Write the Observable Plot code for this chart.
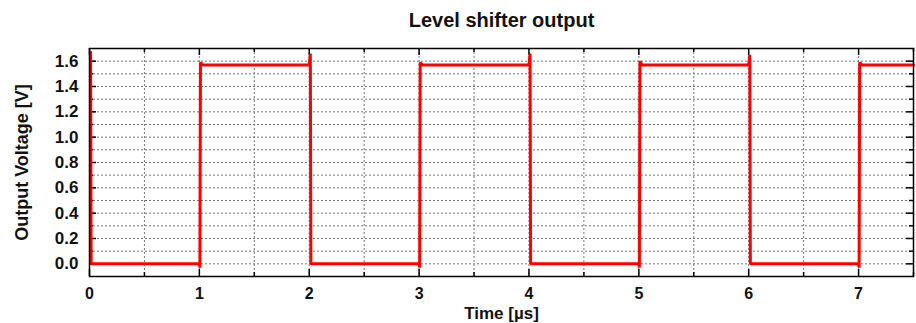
<!DOCTYPE html>
<html>
<head>
<meta charset="utf-8">
<script src="https://cdn.jsdelivr.net/npm/d3@7"></script>
<script src="https://cdn.jsdelivr.net/npm/@observablehq/plot@0.6"></script>
<style>
  html, body { margin: 0; padding: 0; background: #fff; }
  svg { font-family: "Liberation Sans", Arial, sans-serif; }
</style>
</head>
<body>
<div id="chart"></div>
<script>
// Waveform (time in µs, voltage in V)
const times = [0.01, 0.015, 1.0, 1.005, 1.01, 1.03, 2.0, 2.01, 2.015,
               3.0, 3.005, 3.01, 3.03, 4.0, 4.01, 4.015,
               5.0, 5.005, 5.01, 5.03, 6.0, 6.01, 6.015,
               7.0, 7.005, 7.01, 7.03, 7.5];
const volts = [1.67, 0.0, 0.0, -0.03, 1.59, 1.57, 1.57, 1.66, 0.0,
               0.0, -0.03, 1.59, 1.57, 1.57, 1.66, 0.0,
               0.0, -0.03, 1.6, 1.57, 1.57, 1.65, 0.0,
               0.0, -0.03, 1.59, 1.57, 1.57];

const xTicks = [0, 1, 2, 3, 4, 5, 6, 7];
const xMinor = [0.5, 1.5, 2.5, 3.5, 4.5, 5.5, 6.5, 7.5];
const xGrid = [0.5, 1, 1.5, 2, 2.5, 3, 3.5, 4, 4.5, 5, 5.5, 6, 6.5, 7];
const yTicks = [0, 0.2, 0.4, 0.6, 0.8, 1.0, 1.2, 1.4, 1.6];
const yMinor = [0.1, 0.3, 0.5, 0.7, 0.9, 1.1, 1.3, 1.5];
const yGrid = [0, 0.1, 0.2, 0.3, 0.4, 0.5, 0.6, 0.7, 0.8, 0.9, 1.0, 1.1, 1.2, 1.3, 1.4, 1.5, 1.6];

const title = "Level shifter output";
const xLabel = "Time [µs]";
const yLabel = "Output Voltage [V]";

const data = times.map((t, i) => ({t, v: volts[i]}));

const xMin = 0, xMax = 7.5, yMin = -0.1, yMax = 1.7;
const tkX = 0.064, tkXm = 0.036; // tick lengths in data units (x)
const tkY = 0.055, tkYm = 0.032; // tick lengths in data units (y)

const chart = Plot.plot({
  width: 916,
  height: 323,
  marginTop: 48,
  marginBottom: 47,
  marginLeft: 89,
  marginRight: 3,
  x: {domain: [xMin, xMax]},
  y: {domain: [yMin, yMax]},
  style: {fontFamily: "Liberation Sans, Arial, sans-serif", background: "#fff"},
  marks: [
    // grid
    Plot.ruleY(yGrid, {y: d => d, stroke: "#777", strokeWidth: 1, strokeDasharray: "2,2", strokeOpacity: 1}),
    Plot.ruleX(xGrid, {x: d => d, stroke: "#777", strokeWidth: 1, strokeDasharray: "2,2", strokeOpacity: 1}),
    // inward ticks
    Plot.ruleY(yTicks, {y: d => d, x1: xMin, x2: xMin + tkX, stroke: "#000", strokeWidth: 1.5}),
    Plot.ruleY(yTicks, {y: d => d, x1: xMax - tkX, x2: xMax, stroke: "#000", strokeWidth: 1.5}),
    Plot.ruleY(yMinor, {y: d => d, x1: xMin, x2: xMin + tkXm, stroke: "#000", strokeWidth: 1.5}),
    Plot.ruleY(yMinor, {y: d => d, x1: xMax - tkXm, x2: xMax, stroke: "#000", strokeWidth: 1.5}),
    Plot.ruleX(xTicks, {x: d => d, y1: yMin, y2: yMin + tkY, stroke: "#000", strokeWidth: 1.5}),
    Plot.ruleX(xTicks, {x: d => d, y1: yMax - tkY, y2: yMax, stroke: "#000", strokeWidth: 1.5}),
    Plot.ruleX(xMinor, {x: d => d, y1: yMin, y2: yMin + tkYm, stroke: "#000", strokeWidth: 1.5}),
    Plot.ruleX(xMinor, {x: d => d, y1: yMax - tkYm, y2: yMax, stroke: "#000", strokeWidth: 1.5}),
    // signal
    Plot.line(data, {x: "t", y: "v", stroke: "#ff0000", strokeWidth: 3, strokeLinejoin: "miter", curve: "linear"}),
    Plot.frame({stroke: "#000", strokeWidth: 1.5}),
    // axes
    Plot.axisY(yTicks, {tickSize: 0, tickPadding: 11, tickFormat: d3.format(".1f"), fontSize: 17, fontWeight: "bold", fill: "#111", label: null}),
    Plot.axisX(xTicks, {tickSize: 0, tickPadding: 11, tickFormat: d3.format("d"), fontSize: 16, fontWeight: "bold", fill: "#111", label: null}),
    // labels
    Plot.text([yLabel], {frameAnchor: "left", textAnchor: "middle", lineAnchor: "middle", dx: -67, rotate: -90, fontSize: 18, fontWeight: "bold", fill: "#111"}),
    Plot.text([xLabel], {frameAnchor: "bottom", textAnchor: "middle", lineAnchor: "middle", dy: 37, fontSize: 17, fontWeight: "bold", fill: "#111"}),
    Plot.text([title], {frameAnchor: "top", textAnchor: "middle", lineAnchor: "middle", dy: -28, fontSize: 20, fontWeight: "bold", fill: "#111"})
  ]
});
document.getElementById("chart").appendChild(chart);
</script>
</body>
</html>
